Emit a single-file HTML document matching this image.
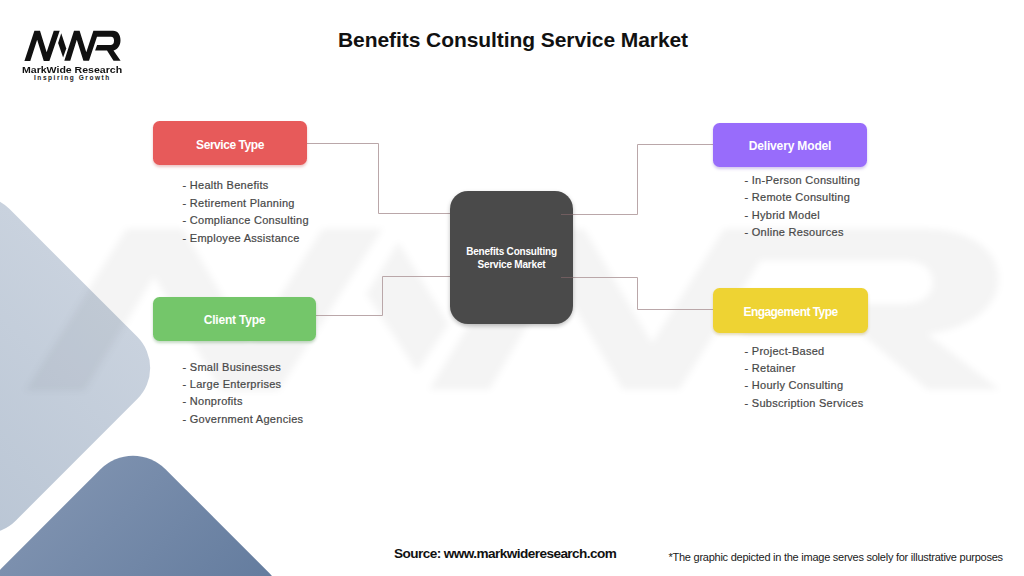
<!DOCTYPE html>
<html>
<head>
<meta charset="utf-8">
<style>
*{margin:0;padding:0;box-sizing:border-box}
html,body{width:1024px;height:576px;overflow:hidden;background:#ffffff}
body{position:relative;font-family:"Liberation Sans",sans-serif;}
.abs{position:absolute}
.dia{position:absolute;width:238px;height:238px;transform:rotate(45deg);}
#d1{left:-153.2px;top:235.25px;width:269.4px;height:259.5px;border-radius:44px;background:linear-gradient(0deg,#b9c5d4 0%,#c9d2de 100%);}
#d2{left:14px;top:486px;border-radius:46px;background:linear-gradient(-90deg,#5f789b 0%,#7c90ae 100%);}
svg{position:absolute;left:0;top:0}
.box{position:absolute;border-radius:7px;color:#fff;font-weight:700;font-size:12px;text-align:center;border-radius:6.5px;}
.box span{position:absolute;left:0;right:0;white-space:nowrap}
.list{position:absolute;font-size:11px;line-height:17.4px;color:#474747;-webkit-text-stroke:0.2px #474747;white-space:nowrap;letter-spacing:0.28px}
</style>
</head>
<body>
<div class="dia" id="d1"></div>
<div class="dia" id="d2"></div>

<!-- watermark -->
<svg width="1024" height="576" viewBox="0 0 1024 576">
 <defs><filter id="blur" x="-10%" y="-10%" width="120%" height="120%"><feGaussianBlur stdDeviation="0.35 0.6"/></filter></defs>
 <g transform="matrix(10.13 0 0 5.36 -222.2 63.6)" fill="rgba(0,0,0,0.045)" fill-rule="evenodd" filter="url(#blur)">
  <path d="M24.4,61.1 L34.4,30.8 L40,30.8 L46.64,52.28 L53.75,30.8 L59.7,30.8 L49.4,61.1 L43.75,61.1 L37.15,39.71 L30.3,61.1 Z"/>
  <path d="M61.25,33.3 L66.25,48.6 L63.1,57.4 L58.1,43 Z"/>
  <path d="M64.3,60.8 L74,30.8 L79.6,30.8 L86.3,52.15 L93.4,30.8 L113,30.8 C118,30.8 120.5,35 120.5,40.3 C120.5,45.5 117.5,49.6 113.5,50.5 L120.6,60.8 L113.5,60.8 L107,50.5 L95.1,50.5 L97.1,44.9 L111,44.9 C113,44.9 114,43.3 114,40.8 C114,38.3 113,36.75 111,36.75 L97,36.75 L89,60.8 L83.4,60.8 L76.8,39.76 L70.25,60.8 Z"/>
 </g>
</svg>

<!-- logo -->
<svg width="140" height="90" viewBox="0 0 140 90">
 <g fill="#111" fill-rule="evenodd">
  <path d="M24.4,61.1 L34.4,30.8 L40,30.8 L46.64,52.28 L53.75,30.8 L59.7,30.8 L49.4,61.1 L43.75,61.1 L37.15,39.71 L30.3,61.1 Z"/>
  <path d="M61.25,33.3 L66.25,48.6 L63.1,57.4 L58.1,43 Z"/>
  <path d="M64.3,60.8 L74,30.8 L79.6,30.8 L86.3,52.15 L93.4,30.8 L113,30.8 C118,30.8 120.5,35 120.5,40.3 C120.5,45.5 117.5,49.6 113.5,50.5 L120.6,60.8 L113.5,60.8 L107,50.5 L95.1,50.5 L97.1,44.9 L111,44.9 C113,44.9 114,43.3 114,40.8 C114,38.3 113,36.75 111,36.75 L97,36.75 L89,60.8 L83.4,60.8 L76.8,39.76 L70.25,60.8 Z"/>
 </g>
</svg>
<div class="abs" id="lg1" style="left:22px;top:65px;font-size:8.5px;font-weight:700;color:#111;white-space:nowrap;transform-origin:0 0;transform:scaleX(1.24)">MarkWide Research</div>
<div class="abs" id="lg2" style="left:34px;top:73.5px;font-size:6.5px;font-weight:700;color:#222;white-space:nowrap;letter-spacing:1.55px">Inspiring Growth</div>

<!-- title -->
<div class="abs" id="title" style="left:338px;top:28px;font-size:21px;font-weight:700;color:#111;white-space:nowrap;letter-spacing:-0.07px">Benefits Consulting Service Market</div>

<!-- connectors -->
<svg width="1024" height="576" viewBox="0 0 1024 576">
 <g fill="none" stroke="#baa7a9" stroke-width="1">
  <polyline points="307,143.5 378.5,143.5 378.5,213.5 452,213.5"/>
  <polyline points="316,315.5 382.5,315.5 382.5,276.5 452,276.5"/>
  <polyline points="560,214.5 637.5,214.5 637.5,144.5 713,144.5"/>
  <polyline points="560,277.5 637.5,277.5 637.5,309.5 713,309.5"/>
 </g>
</svg>

<!-- central -->
<div class="abs" id="center" style="left:450px;top:190.5px;width:123px;height:133px;border-radius:18px;background:#4a4a4a;box-shadow:0 2px 4px rgba(0,0,0,0.25);color:#fff;font-size:10px;font-weight:700;text-align:center;">
 <div class="abs" style="left:0;right:0;top:54.5px;line-height:13.3px;letter-spacing:-0.2px">Benefits Consulting<br>Service Market</div>
</div>

<svg width="1024" height="576" viewBox="0 0 1024 576">
 <g fill="none" stroke="#8a6a6e" stroke-width="1" opacity="0.6">
  <line x1="561" y1="214.5" x2="573" y2="214.5"/>
  <line x1="561" y1="277.5" x2="573" y2="277.5"/>
 </g>
</svg>

<!-- boxes -->
<div class="box" style="left:153px;top:121px;width:154px;height:44px;background:#e75a5a;box-shadow:0 2px 3px rgba(190,60,60,0.3)"><span style="top:16.7px;letter-spacing:-0.45px">Service Type</span></div>
<div class="box" style="left:153px;top:297px;width:163px;height:44px;background:#74c66a;box-shadow:0 2px 3px rgba(60,130,60,0.3)"><span style="top:16.4px;letter-spacing:-0.2px">Client Type</span></div>
<div class="box" style="left:713px;top:123px;width:154px;height:44px;background:#986cfb;box-shadow:0 2px 3px rgba(110,70,200,0.3)"><span style="top:15.6px;letter-spacing:-0.15px">Delivery Model</span></div>
<div class="box" style="left:713px;top:288px;width:155px;height:45px;background:#eed333;box-shadow:0 2px 3px rgba(170,140,30,0.3)"><span style="top:16.7px;letter-spacing:-0.56px">Engagement Type</span></div>

<!-- lists -->
<div class="list" style="left:182.5px;top:177.4px">- Health Benefits<br>- Retirement Planning<br>- Compliance Consulting<br>- Employee Assistance</div>
<div class="list" style="left:744.5px;top:171.7px">- In-Person Consulting<br>- Remote Consulting<br>- Hybrid Model<br>- Online Resources</div>
<div class="list" style="left:182.5px;top:358.6px">- Small Businesses<br>- Large Enterprises<br>- Nonprofits<br>- Government Agencies</div>
<div class="list" style="left:744.5px;top:342.6px">- Project-Based<br>- Retainer<br>- Hourly Consulting<br>- Subscription Services</div>

<!-- footer -->
<div class="abs" style="left:394px;top:546.2px;font-size:13.6px;font-weight:700;color:#111;white-space:nowrap;letter-spacing:-0.57px">Source: www.markwideresearch.com</div>
<div class="abs" style="left:668.5px;top:551px;font-size:11px;color:#1a1a1a;white-space:nowrap;letter-spacing:-0.25px">*The graphic depicted in the image serves solely for illustrative purposes</div>
</body>
</html>
